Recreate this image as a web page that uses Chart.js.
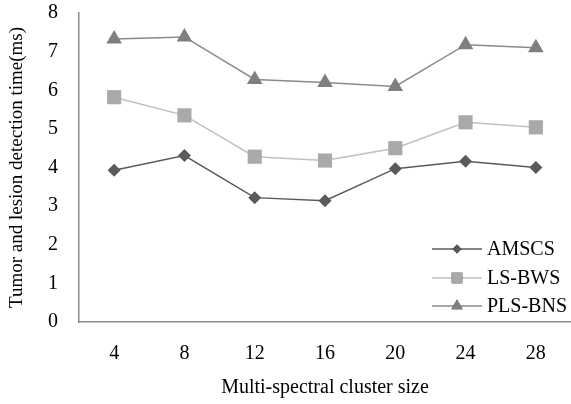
<!DOCTYPE html>
<html lang="en">
<head>
    <meta charset="UTF-8">
    <title>Detection time</title>
    <script src="https://cdn.jsdelivr.net/npm/chart.js@4.4.1/dist/chart.umd.min.js"></script>
    <style>
        html, body { margin: 0; padding: 0; background: #fff; }
        #wrap { width: 571px; height: 404px; }
    </style>
</head>
<body>
    <div id="wrap"><canvas id="chart" width="571" height="404"></canvas></div>
    <script>
        const clusterSizes = ['4', '8', '12', '16', '20', '24', '28'];
        const amscs = [3.93, 4.31, 3.22, 3.14, 3.97, 4.16, 4.00];
        const lsBws = [5.82, 5.35, 4.28, 4.18, 4.50, 5.17, 5.04];
        const plsBns = [7.33, 7.38, 6.28, 6.20, 6.10, 7.18, 7.10];
        const yTicks = [0, 1, 2, 3, 4, 5, 6, 7, 8];

        const serif = "'Liberation Serif', 'Times New Roman', serif";

        const series = [
            { label: 'AMSCS', data: amscs, line: '#5a5a5a', fill: '#5a5a5a', style: 'rectRot', r: 6.5, lr: 4.5 },
            { label: 'LS-BWS', data: lsBws, line: '#c0c0c0', fill: '#a9a9a9', style: 'rect', r: 10, lr: 7.5 },
            { label: 'PLS-BNS', data: plsBns, line: '#8a8a8a', fill: '#7f7f7f', style: 'triangle', r: 9, lr: 6.5 }
        ];

        // legend with line + marker, drawn inside the plot
        const lineLegend = {
            id: 'lineLegend',
            afterDraw(chart) {
                const ctx = chart.ctx;
                const x0 = 432, x1 = 482, ys = [249, 278, 306];
                ctx.save();
                series.forEach((s, i) => {
                    const y = ys[i];
                    ctx.strokeStyle = s.line;
                    ctx.lineWidth = 1.5;
                    ctx.beginPath();
                    ctx.moveTo(x0, y);
                    ctx.lineTo(x1, y);
                    ctx.stroke();
                    Chart.helpers.drawPoint(ctx, {
                        pointStyle: s.style, radius: s.lr, rotation: 0, borderWidth: 0
                    }, (x0 + x1) / 2, y);
                    ctx.fillStyle = s.fill;
                    ctx.fill();
                    ctx.fillStyle = '#000';
                    ctx.font = '20px ' + serif;
                    ctx.textBaseline = 'middle';
                    ctx.fillText(s.label, 487, y + 1);
                });
                ctx.restore();
            }
        };

        new Chart(document.getElementById('chart'), {
            type: 'line',
            data: {
                labels: clusterSizes,
                datasets: series.map(s => ({
                    label: s.label,
                    data: s.data,
                    borderColor: s.line,
                    borderWidth: 1.5,
                    backgroundColor: s.fill,
                    pointStyle: s.style,
                    pointRadius: s.r,
                    pointBorderWidth: 0,
                    pointBackgroundColor: s.fill,
                    tension: 0
                }))
            },
            options: {
                responsive: false,
                animation: false,
                layout: { autoPadding: false, padding: { top: 13, right: 0, left: 0, bottom: 0 } },
                plugins: { legend: { display: false }, tooltip: { enabled: false } },
                scales: {
                    x: {
                        offset: true,
                        grid: { display: false, drawTicks: false },
                        border: { color: '#8c8c8c', width: 1.5 },
                        ticks: { color: '#000', font: { family: serif, size: 20 }, padding: 20 },
                        title: {
                            display: true, text: 'Multi-spectral cluster size', color: '#000',
                            font: { family: serif, size: 20 }, padding: { top: 14 }
                        },
                        afterFit(scale) {
                            scale.height = 82;
                            scale.paddingLeft = 0;
                            scale.paddingRight = 0;
                        }
                    },
                    y: {
                        min: 0, max: 8,
                        afterBuildTicks(scale) { scale.ticks = yTicks.map(v => ({ value: v })); },
                        grid: { display: false, drawTicks: false },
                        border: { color: '#8c8c8c', width: 1.5 },
                        ticks: { color: '#000', font: { family: serif, size: 20 }, padding: 21 },
                        title: {
                            display: true, text: 'Tumor and lesion detection time(ms)', color: '#000',
                            font: { family: serif, size: 19 }, padding: { top: 6, bottom: 6 }
                        },
                        afterFit(scale) {
                            scale.width = 79;
                            scale.paddingTop = 0;
                            scale.paddingBottom = 0;
                        }
                    }
                }
            },
            plugins: [lineLegend]
        });
    </script>
</body>
</html>
